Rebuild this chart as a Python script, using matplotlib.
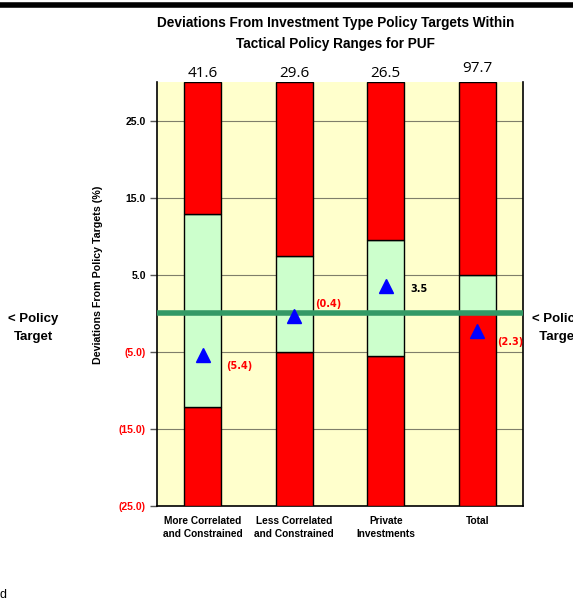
import matplotlib
matplotlib.use("Agg")
import matplotlib.pyplot as plt
from matplotlib import font_manager

names = sorted({f.name for f in font_manager.fontManager.ttflist})
narrow = "Liberation Sans Narrow" if "Liberation Sans Narrow" in names else "Liberation Sans"

categories = ["More Correlated\nand Constrained", "Less Correlated\nand Constrained",
              "Private\nInvestments", "Total"]
top_values = ["41.6", "29.6", "26.5", "97.7"]
range_upper = [12.9, 7.4, 9.5, 5.0]
range_lower = [-12.1, -5.0, -5.5, 0.0]
actual_dev = [-5.4, -0.4, 3.5, -2.3]
dev_labels = ["(5.4)", "(0.4)", "3.5", "(2.3)"]
label_offsets = [(17, -8), (15, 9), (18, -2), (14, -8)]
top_offsets = [1, 1, 1, 4]
yticks = [-25, -15, -5, 5, 15, 25]
ytick_labels = ["(25.0)", "(15.0)", "(5.0)", "5.0", "15.0", "25.0"]
ymin, ymax = -25, 30

fig = plt.figure(figsize=(5.73, 6.07), dpi=100)
ax = fig.add_axes([0.274, 0.1664, 0.6387, 0.6985])
ax.set_facecolor("#FFFFCC")

x = list(range(len(categories)))
w = 0.4
for i in x:
    lo, hi = range_lower[i], range_upper[i]
    ax.bar(i, lo - ymin, bottom=ymin, width=w, color="#FF0000", edgecolor="black", linewidth=1, zorder=3)
    ax.bar(i, hi - lo, bottom=lo, width=w, color="#CCFFCC", edgecolor="black", linewidth=1, zorder=3)
    ax.bar(i, ymax - hi, bottom=hi, width=w, color="#FF0000", edgecolor="black", linewidth=1, zorder=3)

ax.axhline(0, color="#339966", linewidth=4, zorder=4)
ax.plot(x, actual_dev, linestyle="none", marker="^", markersize=10, color="#0000FF", zorder=5)
for i in x:
    c = "#FF0000" if actual_dev[i] < 0 else "black"
    ax.annotate(dev_labels[i], (i, actual_dev[i]), xytext=label_offsets[i], textcoords="offset points",
                ha="left", va="center", fontsize=7, fontweight="bold", color=c, zorder=6)

ax.set_xlim(-0.5, len(categories) - 0.5)
ax.set_ylim(ymin, ymax)
ax.set_yticks(yticks)
ax.set_yticklabels(ytick_labels, fontsize=7.5, fontweight="bold", family="Liberation Sans")
for t, v in zip(ax.get_yticklabels(), yticks):
    t.set_color("#FF0000" if v < 0 else "black")
ax.set_xticks(x)
ax.set_xticklabels(categories, fontsize=7.3, fontweight="bold", family=narrow, linespacing=1.45)
ax.tick_params(axis="x", length=0, pad=7)
ax.tick_params(axis="y", length=5, width=1, pad=3, direction="out", color="#555555")
ax.grid(axis="y", color="#7F7F6A", linewidth=0.8, zorder=1)
ax.set_axisbelow(True)
for s in ["left", "bottom", "right"]:
    ax.spines[s].set_linewidth(1.2)
ax.spines["top"].set_visible(False)

ax.set_ylabel("Deviations From Policy Targets (%)", fontsize=7.7, fontweight="bold", family=narrow)
ax.yaxis.set_label_coords(-0.148, 0.545)

for i in x:
    ax.annotate(top_values[i], (i, ymax), xytext=(0, top_offsets[i]), textcoords="offset points",
                ha="center", va="bottom", fontsize=11, family="Open Sans", annotation_clip=False)

fig.text(0.585, 0.945, "Deviations From Investment Type Policy Targets Within\nTactical Policy Ranges for PUF",
         ha="center", va="center", fontsize=9.8, fontweight="bold", family=narrow, linespacing=1.7)

fig.text(0.058, 0.459, "< Policy\nTarget", ha="center", va="center", fontsize=9.5, fontweight="bold",
         family=narrow, linespacing=1.65)
fig.text(0.928, 0.459, "< Policy\n  Target", ha="left", va="center", fontsize=9.5, fontweight="bold",
         family=narrow, linespacing=1.65)
fig.text(0.0, 0.02, "d", ha="left", va="center", fontsize=9, family="Liberation Sans")

fig.add_artist(plt.Line2D([0, 1], [0.992, 0.992], color="black", linewidth=4, transform=fig.transFigure))

fig.savefig("out.png", dpi=100)
